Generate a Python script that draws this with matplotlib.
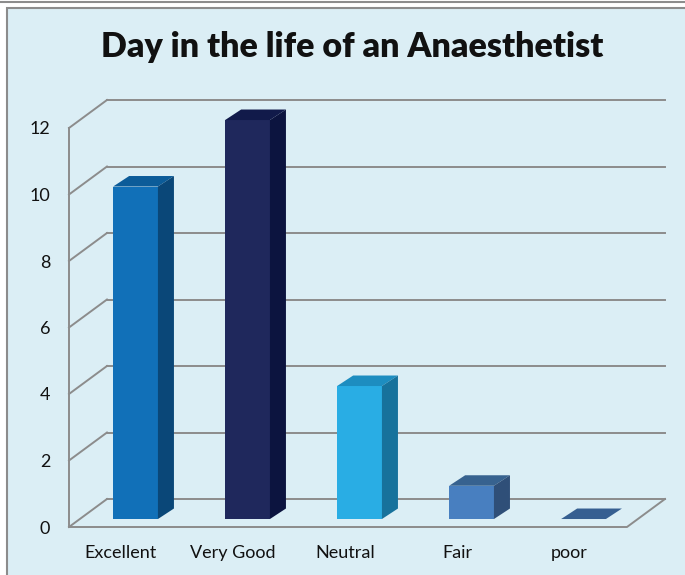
import matplotlib.pyplot as plt
from matplotlib.patches import Rectangle
from matplotlib.lines import Line2D

# data
categories = ['Excellent', 'Very Good', 'Neutral', 'Fair', 'poor']
values = [10, 12, 4, 1, 0]
y_ticks = [0, 2, 4, 6, 8, 10, 12]

# colours: front / top / side of each bar
front_colors = ['#1170B8', '#1F285C', '#29ADE4', '#487FC0', '#365F91']
top_colors = ['#0C5C99', '#111A4A', '#1D8DC0', '#37628F', '#365F91']
side_colors = ['#0A4778', '#0C143F', '#17729C', '#2F4F78', '#2F4F78']
bg = '#DBEEF5'
grid_c = '#8C8C8C'

plt.rcParams['font.family'] = ['Lato', 'DejaVu Sans']

fig = plt.figure(figsize=(6.85, 5.75), dpi=100)
fig.patch.set_facecolor('white')

# chart panel with border
fig.add_artist(Rectangle((7 / 685, -0.02), 1.0, 1 - 8 / 575 + 0.02,
                         transform=fig.transFigure, facecolor=bg,
                         edgecolor=grid_c, lw=1.5, zorder=0))
fig.add_artist(Line2D([0, 1], [1 - 2 / 575] * 2, transform=fig.transFigure,
                      color=grid_c, lw=1.5))

ax = fig.add_axes([69 / 685, 48 / 575, 558 / 685, 399 / 575])
x0, x1 = -0.464, 4.518
ax.set_xlim(x0, x1)
ax.set_ylim(0, 12)
ax.patch.set_alpha(0)
for s in ax.spines.values():
    s.set_visible(False)

# depth of the walls and of the bars (data units)
DX, DY = 0.339, 0.842
bx, bdy = 0.143, 0.316
shift, base, w = 0.13, 0.24, 0.40

# walls / floor
for t in y_ticks:
    ax.plot([x0 + DX, x1 + DX], [t + DY, t + DY], color=grid_c, lw=1.4, clip_on=False, zorder=1)
    ax.plot([x0, x0 + DX], [t, t + DY], color=grid_c, lw=1.4, clip_on=False, zorder=1)
ax.plot([x0, x0], [0, 12], color=grid_c, lw=1.4, clip_on=False, zorder=1)
ax.plot([x0, x1, x1 + DX], [0, 0, DY], color=grid_c, lw=1.4, clip_on=False, zorder=1)

# bars
xs = [i + shift for i in range(len(categories))]
bars = ax.bar(xs, values, width=w, bottom=base, color=front_colors, zorder=3)
for b in bars:
    b.set_clip_on(False)
for x, v, tc, sc in zip(xs, values, top_colors, side_colors):
    l, r, top = x - w / 2, x + w / 2, v + base
    ax.fill([l, r, r + bx, l + bx], [top, top, top + bdy, top + bdy],
            color=tc, lw=0, zorder=3, clip_on=False)
    if v > 0:
        ax.fill([r, r, r + bx, r + bx], [base, top, top + bdy, base + bdy],
                color=sc, lw=0, zorder=3, clip_on=False)

ax.set_yticks(y_ticks)
ax.set_xticks(range(len(categories)), categories)
ax.tick_params(axis='y', length=0, pad=13.5, labelsize=13, labelcolor='#111111')
ax.tick_params(axis='x', length=0, pad=13, labelsize=13, labelcolor='#111111')

fig.text(352 / 685, 1 - 47 / 575, 'Day in the life of an Anaesthetist',
         ha='center', va='center', fontsize=24.5, fontweight='heavy', color='#111111')

fig.savefig('out.png', dpi=100, facecolor='white')
